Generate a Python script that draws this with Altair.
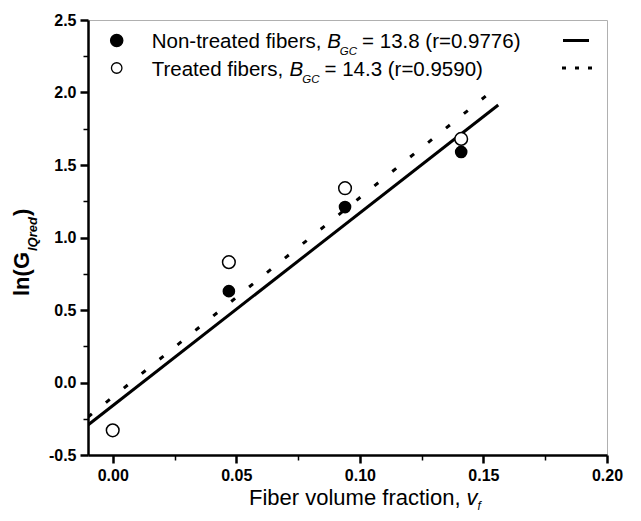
import altair as alt
import pandas as pd

# ---- data ----
vf_non = [0.047, 0.094, 0.141]
ln_non = [0.63, 1.21, 1.59]
vf_tr = [0.0, 0.047, 0.094, 0.141]
ln_tr = [-0.33, 0.83, 1.34, 1.68]
fit_x = [-0.01, 0.156]
fit_non = [-0.293, 1.914]
fit_tr = [-0.238, 2.045]

x_ticks = [0.0, 0.025, 0.05, 0.075, 0.10, 0.125, 0.15, 0.175, 0.20]
y_ticks = [-0.5, -0.25, 0.0, 0.25, 0.5, 0.75, 1.0, 1.25, 1.5, 1.75, 2.0, 2.25, 2.5]

FONT = "Liberation Sans"

# Arial / Liberation Sans advance widths (em)
W = {'N': .722, 'o': .556, 'n': .556, '-': .333, 't': .278, 'r': .333, 'e': .556, 'a': .556,
     'd': .556, ' ': .278, 'f': .278, 'i': .222, 'b': .556, 's': .5, ',': .278, 'T': .611,
     'B': .667, 'G': .778, 'C': .722, 'F': .611, 'v': .5, 'l': .222, 'u': .556, 'm': .833,
     'c': .5, 'I': .278, 'Q': .778}


def tw(s, size):
    return sum(W.get(c, .556) for c in s) * size


df_non = pd.DataFrame({"x": vf_non, "y": ln_non})
df_tr = pd.DataFrame({"x": vf_tr, "y": ln_tr})
df_fit = pd.DataFrame({"x": fit_x + fit_x,
                       "y": fit_non + fit_tr,
                       "s": ["non"] * 2 + ["tr"] * 2})

xmaj = "abs(datum.value*20 - round(datum.value*20)) < 0.001"
ymaj = "abs(datum.value*2 - round(datum.value*2)) < 0.001"

xscale = alt.Scale(domain=[-0.01, 0.20], nice=False, zero=False)
yscale = alt.Scale(domain=[-0.5, 2.5], nice=False, zero=False)

xaxis = alt.Axis(values=x_ticks, title=None, grid=False, domainColor="black", domainWidth=2.5,
                 tickColor="black",
                 tickSize={"condition": {"test": xmaj, "value": 8}, "value": 5},
                 tickWidth={"condition": {"test": xmaj, "value": 2.5}, "value": 1.5},
                 labelExpr=xmaj + " ? format(datum.value, '.2f') : ''",
                 labelFont=FONT, labelFontSize=16, labelFontWeight="bold", labelColor="black",
                 labelPadding=4, labelFlush=False, labelOverlap=False)
yaxis = alt.Axis(values=y_ticks, title=None, grid=False, domainColor="black", domainWidth=2.5,
                 tickColor="black",
                 tickSize={"condition": {"test": ymaj, "value": 8}, "value": 5},
                 tickWidth={"condition": {"test": ymaj, "value": 2.5}, "value": 1.5},
                 labelExpr=ymaj + " ? replace(format(datum.value, '.1f'), '\u2212', '-') : ''",
                 labelFont=FONT, labelFontSize=16, labelFontWeight="bold", labelColor="black",
                 labelPadding=4, labelFlush=False, labelOverlap=False)

X = lambda: alt.X("x:Q", scale=xscale, axis=xaxis)
Y = lambda: alt.Y("y:Q", scale=yscale, axis=yaxis)

line_non = alt.Chart(df_fit).transform_filter("datum.s == 'non'").mark_line(
    color="black", strokeWidth=3, clip=True).encode(x=X(), y=Y())
line_tr = alt.Chart(df_fit).transform_filter("datum.s == 'tr'").mark_line(
    color="black", strokeWidth=3, strokeDash=[5, 18], clip=True).encode(x=X(), y=Y())
pts_non = alt.Chart(df_non).mark_point(shape="circle", filled=True, color="black", size=160,
                                        opacity=1).encode(x=X(), y=Y())
pts_tr = alt.Chart(df_tr).mark_point(shape="circle", filled=True, fill="white", stroke="black",
                                      strokeWidth=1.5, size=160, opacity=1).encode(x=X(), y=Y())

one = pd.DataFrame({"k": [0]})
layers = [line_non, line_tr, pts_non, pts_tr]


def txt(s, x, y, size, weight="normal", style="normal", angle=0):
    return alt.Chart(one).mark_text(text=s, font=FONT, fontSize=size, fontWeight=weight,
                                     fontStyle=style, align="left", baseline="alphabetic",
                                     angle=angle, color="black").encode(
        x=alt.value(x), y=alt.value(y))


# legend
LF, SF = 20.5, 11.5
rows = [("Non-treated fibers, ", "= 13.8 (r=0.9776)", 20.5, 28),
        ("Treated fibers, ", "= 14.3 (r=0.9590)", 48, 55.5)]
tx0 = 63.7
for i, (a, b, ys, yb) in enumerate(rows):
    layers.append(alt.Chart(one).mark_point(
        shape="circle", filled=True, fill="black" if i == 0 else "white", stroke="black",
        strokeWidth=1.3, size=150 if i == 0 else 110, opacity=1).encode(
        x=alt.value(28.7), y=alt.value(ys)))
    xb = tx0 + tw(a, LF)
    xg = xb + tw("B", LF) - 1
    xr = xg + tw("GC", SF) + 5
    layers += [txt(a, tx0, yb, LF), txt("B", xb, yb, LF, style="italic"),
               txt("GC", xg, yb + 7, SF, style="italic"), txt(b, xr, yb, LF)]

layers.append(alt.Chart(one).mark_rule(color="black", strokeWidth=3).encode(
    x=alt.value(475), x2=alt.value(501), y=alt.value(20.5)))
layers.append(alt.Chart(one).mark_rule(color="black", strokeWidth=3, strokeDash=[4, 9]).encode(
    x=alt.value(474), x2=alt.value(504), y=alt.value(48)))

# x title
XF = 22
xt0 = 161
xa = "Fiber volume fraction, "
layers += [txt(xa, xt0, 485, XF), txt("v", xt0 + tw(xa, XF), 485, XF, style="italic"),
           txt("f", xt0 + tw(xa, XF) + tw("v", XF), 490, 12, style="italic")]

# y title (rotated)
YF = 22
yt0 = 276
layers += [txt("ln(G", -59.5, yt0, YF, weight="bold", angle=270),
           txt("IQred", -51, yt0 - 45, 13, weight="bold", style="italic", angle=270),
           txt(")", -59.5, yt0 - 45 - 35, YF, weight="bold", angle=270)]

chart = alt.layer(*layers).properties(
    width=519, height=435,
    autosize=alt.AutoSizeParams(type="none"),
    padding={"left": 80, "top": 12, "right": 26, "bottom": 58},
).configure_view(stroke="#b0b0b0", strokeWidth=1)

chart.save("out.html", embed_options={"renderer": "svg", "actions": False})
